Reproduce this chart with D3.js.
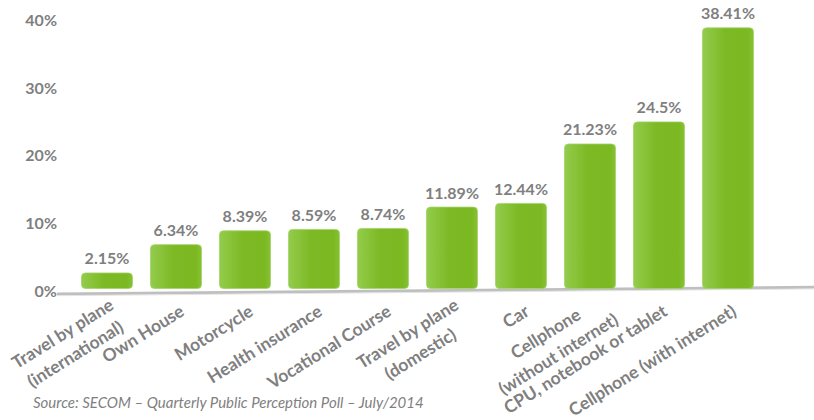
<!DOCTYPE html>
<html>
<head>
<meta charset="utf-8">
<script src="https://cdn.jsdelivr.net/npm/d3@7"></script>
<style>
  html, body { margin: 0; padding: 0; background: #ffffff; }
  svg { display: block; }
</style>
</head>
<body>
<svg id="chart" width="814" height="420"></svg>
<script>
// Purchase intentions, share of respondents (%)
const categories = [
  "Travel by plane\n(international)",
  "Own House",
  "Motorcycle",
  "Health insurance",
  "Vocational Course",
  "Travel by plane\n(domestic)",
  "Car",
  "Cellphone\n(without internet)",
  "CPU, notebook or tablet",
  "Cellphone (with internet)"
];
const values = [2.15, 6.34, 8.39, 8.59, 8.74, 11.89, 12.44, 21.23, 24.5, 38.41];
const yTicks = [0, 10, 20, 30, 40];
const sourceNote = "Source: SECOM \u2013 Quarterly Public Perception Poll \u2013 July/2014";

const svg = d3.select("#chart");
const textGray = "#7f7f7f";
const font = "Lato, 'Open Sans', sans-serif";

const x = d3.scaleBand()
  .domain(categories)
  .range([72.5, 762.5])
  .paddingInner(0.26)
  .paddingOuter(0.13);

const y = d3.scaleLinear()
  .domain([0, 40])
  .range([287.5, 17.1]);

// bar fill: light left edge fading into a deeper green
const defs = svg.append("defs");
const grad = defs.append("linearGradient")
  .attr("id", "barFill")
  .attr("x1", "0%").attr("x2", "100%")
  .attr("y1", "0%").attr("y2", "0%");
grad.append("stop").attr("offset", "0%").attr("stop-color", "#93cc4c");
grad.append("stop").attr("offset", "45%").attr("stop-color", "#7cb924");
grad.append("stop").attr("offset", "88%").attr("stop-color", "#7cb822");
grad.append("stop").attr("offset", "100%").attr("stop-color", "#86c133");

// sloping floor line
svg.append("line")
  .attr("x1", 57).attr("y1", y(0) + 6.5)
  .attr("x2", 814).attr("y2", y(0) - 0.3)
  .attr("stroke", "#bfbfbf")
  .attr("stroke-width", 3);
svg.append("line")
  .attr("x1", 57).attr("y1", y(0) + 8.2)
  .attr("x2", 814).attr("y2", y(0) + 1.4)
  .attr("stroke", "#e4e4e4")
  .attr("stroke-width", 1);

// y axis labels
const yAxis = d3.axisLeft(y)
  .tickValues(yTicks)
  .tickSize(0)
  .tickPadding(0)
  .tickFormat(d => d + "%");
const yg = svg.append("g")
  .attr("transform", "translate(57,3.5)")
  .call(yAxis);
yg.select(".domain").remove();
yg.selectAll("text")
  .attr("fill", textGray)
  .style("font-family", font)
  .style("font-weight", "bold")
  .style("font-size", "16px");

// bars
const baseY = y(0) + 1;
svg.append("g").selectAll("rect")
  .data(values)
  .join("rect")
  .attr("x", (d, i) => x(categories[i]))
  .attr("y", d => y(d))
  .attr("width", x.bandwidth())
  .attr("height", d => baseY - y(d))
  .attr("rx", 4).attr("ry", 4)
  .attr("fill", "url(#barFill)")
  .attr("stroke", "#a3d36a")
  .attr("stroke-width", 0.8);

// value labels
svg.append("g").selectAll("text")
  .data(values)
  .join("text")
  .attr("x", (d, i) => x(categories[i]) + x.bandwidth() / 2)
  .attr("y", d => y(d) - 8.5)
  .attr("text-anchor", "middle")
  .attr("fill", textGray)
  .style("font-family", font)
  .style("font-weight", "bold")
  .style("font-size", "16px")
  .text(d => d + "%");

// rotated category labels: single lines hang from their right end,
// wrapped labels are placed by the centre of their block
const lineH = 24;
const angle = -32;
const catG = svg.append("g").selectAll("g")
  .data(categories)
  .join("g")
  .attr("transform", d => {
    const cx = x(d) + x.bandwidth() / 2;
    return d.includes("\n")
      ? `translate(${cx - 38},344) rotate(${angle})`
      : `translate(${cx + 9.5},314.5) rotate(${angle})`;
  });

catG.each(function (d) {
  const g = d3.select(this);
  const lines = d.split("\n");
  const n = lines.length;
  g.selectAll("text")
    .data(lines)
    .join("text")
    .attr("fill", textGray)
    .style("font-family", font)
    .style("font-weight", "bold")
    .style("font-size", "17.5px")
    .attr("text-anchor", n > 1 ? "middle" : "end")
    .attr("x", 0)
    .attr("y", (l, i) => n > 1 ? (i - (n - 1) / 2) * lineH + 6 : 0)
    .text(l => l);
});

// source note
svg.append("text")
  .attr("x", 33)
  .attr("y", 408)
  .attr("fill", textGray)
  .style("font-family", font)
  .style("font-style", "italic")
  .style("font-size", "15px")
  .text(sourceNote);
</script>
</body>
</html>
